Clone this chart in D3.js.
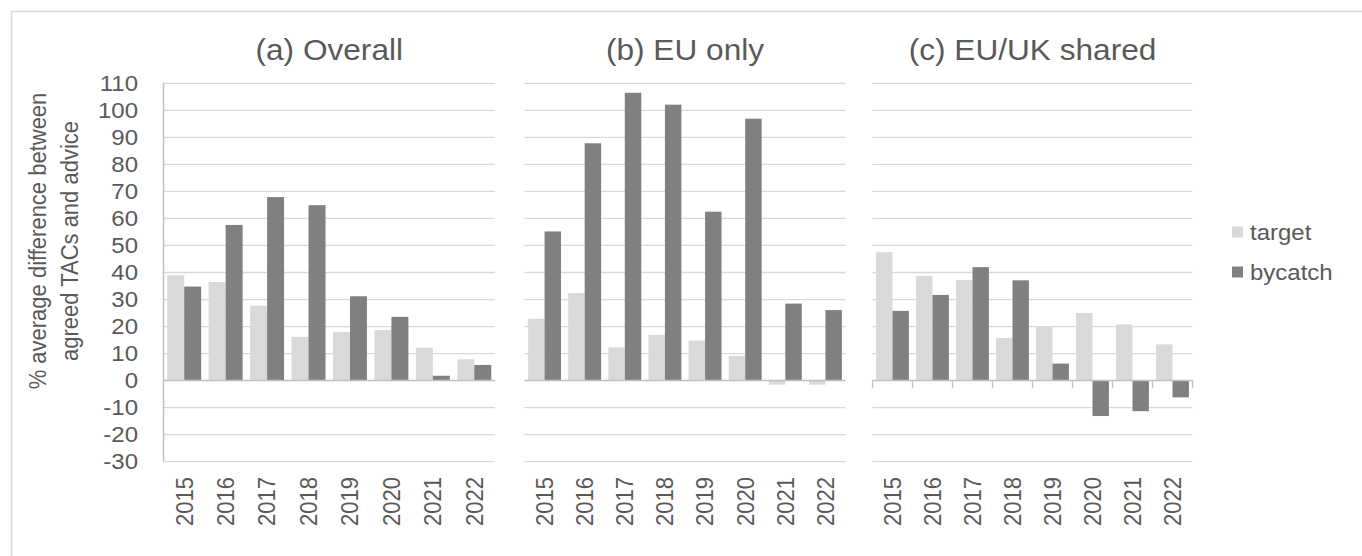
<!DOCTYPE html>
<html>
<head>
<meta charset="utf-8">
<script src="https://cdn.jsdelivr.net/npm/d3@7"></script>
<style>
  html, body { margin: 0; padding: 0; background: #fff; }
  svg { display: block; }
  text { font-family: "Liberation Sans", Arial, sans-serif; fill: #595959; }
</style>
</head>
<body>
<svg id="chart" width="1362" height="556"></svg>
<script>
// Categories and series values (% difference between agreed TACs and advice)
const years = ["2015", "2016", "2017", "2018", "2019", "2020", "2021", "2022"];
const seriesNames = ["target", "bycatch"];
const panelTitles = ["(a) Overall", "(b) EU only", "(c) EU/UK shared"];

const overallTarget  = [39.0, 36.5, 27.7, 16.2, 18.0, 18.7, 12.2, 7.9];
const overallBycatch = [34.8, 57.6, 67.9, 64.9, 31.2, 23.6, 1.8, 5.8];
const euTarget       = [22.9, 32.4, 12.3, 16.9, 14.8, 9.1, -1.5, -1.5];
const euBycatch      = [55.2, 87.8, 106.5, 102.1, 62.5, 96.9, 28.5, 26.1];
const sharedTarget   = [47.5, 38.7, 37.2, 15.8, 20.2, 25.0, 20.8, 13.4];
const sharedBycatch  = [25.8, 31.7, 42.0, 37.1, 6.3, -13.1, -11.3, -6.2];

const yTicks = d3.range(-30, 111, 10);

const panels = [
  { title: panelTitles[0], target: overallTarget, bycatch: overallBycatch, x0: 163.5, x1: 495,    leftAxis: true,  catTicks: false },
  { title: panelTitles[1], target: euTarget,      bycatch: euBycatch,      x0: 524.5, x1: 845.5,  leftAxis: false, catTicks: false },
  { title: panelTitles[2], target: sharedTarget,  bycatch: sharedBycatch,  x0: 872.5, x1: 1192.5, leftAxis: false, catTicks: true }
];

const colors = { target: "#d9d9d9", bycatch: "#808080" };
const gridColor = "#d9d9d9";
const axisColor = "#bfbfbf";
const sx = 1.09; // horizontal glyph stretch

const svg = d3.select("#chart");

// outer frame
svg.append("rect")
  .attr("x", 11.5).attr("y", 11.5)
  .attr("width", 1400).attr("height", 600)
  .attr("fill", "none").attr("stroke", "#d9d9d9").attr("stroke-width", 1.5);

const y = d3.scaleLinear().domain([-30, 110]).range([461.7, 83.3]);

function stretchedText(sel, x, yy, rot) {
  return sel.attr("transform", `translate(${x},${yy}) scale(${sx},1)` + (rot ? ` rotate(${rot})` : ""));
}

panels.forEach(p => {
  const g = svg.append("g");
  const x = d3.scaleBand().domain(years).range([p.x0, p.x1]).paddingInner(0.18).paddingOuter(0.09);
  const xs = d3.scaleBand().domain(seriesNames).range([0, x.bandwidth()]).padding(0);

  // gridlines
  g.append("g").selectAll("line")
    .data(yTicks.filter(t => t !== 0))
    .join("line")
    .attr("x1", p.x0).attr("x2", p.x1)
    .attr("y1", d => y(d)).attr("y2", d => y(d))
    .attr("stroke", gridColor).attr("stroke-width", 1.3);

  // bars
  const rows = years.map((yr, i) => ({ year: yr, target: p.target[i], bycatch: p.bycatch[i] }));
  const grp = g.append("g").selectAll("g")
    .data(rows).join("g")
    .attr("transform", d => `translate(${x(d.year)},0)`);
  grp.selectAll("rect")
    .data(d => seriesNames.map(s => ({ key: s, value: d[s] })))
    .join("rect")
    .attr("x", d => xs(d.key))
    .attr("width", xs.bandwidth())
    .attr("y", d => y(Math.max(0, d.value)))
    .attr("height", d => Math.abs(y(d.value) - y(0)))
    .attr("fill", d => colors[d.key]);

  // zero line (category axis)
  g.append("line")
    .attr("x1", p.x0).attr("x2", p.x1)
    .attr("y1", y(0)).attr("y2", y(0))
    .attr("stroke", axisColor).attr("stroke-width", 1.5);

  if (p.catTicks) {
    const bounds = d3.range(years.length + 1).map(i => p.x0 + i * x.step());
    g.append("g").selectAll("line")
      .data(bounds).join("line")
      .attr("x1", d => d).attr("x2", d => d)
      .attr("y1", y(0)).attr("y2", y(0) + 7)
      .attr("stroke", axisColor).attr("stroke-width", 1.3);
  }

  if (p.leftAxis) {
    g.append("line")
      .attr("x1", p.x0).attr("x2", p.x0)
      .attr("y1", y(110)).attr("y2", y(-30))
      .attr("stroke", axisColor).attr("stroke-width", 1.5);
    g.append("g").selectAll("text")
      .data(yTicks).join("text")
      .each(function(d) { stretchedText(d3.select(this), 138, y(d), 0); })
      .attr("text-anchor", "end")
      .attr("dy", "0.35em")
      .attr("font-size", 22)
      .text(d => d);
  }

  // category labels
  g.append("g").selectAll("text")
    .data(years).join("text")
    .each(function(d) { stretchedText(d3.select(this), x(d) + x.bandwidth() / 2, 477, -90); })
    .attr("text-anchor", "end")
    .attr("dy", "0.35em")
    .attr("font-size", 22)
    .text(d => d);

  // panel title
  stretchedText(g.append("text"), (p.x0 + p.x1) / 2, 60, 0)
    .attr("text-anchor", "middle")
    .attr("font-size", 29)
    .text(p.title);
});

// value axis title
const yTitle = ["% average difference between", "agreed TACs and advice"];
yTitle.forEach((t, i) => {
  stretchedText(svg.append("text"), 46 + i * 32, 241, -90)
    .attr("text-anchor", "middle")
    .attr("font-size", 22)
    .text(t);
});

// legend
const legend = svg.append("g");
seriesNames.forEach((s, i) => {
  const ly = 232 + i * 40;
  legend.append("rect")
    .attr("x", 1232).attr("y", ly - 5.5)
    .attr("width", 11).attr("height", 11)
    .attr("fill", colors[s]);
  stretchedText(legend.append("text"), 1250, ly, 0)
    .attr("dy", "0.35em")
    .attr("font-size", 22)
    .text(s);
});
</script>
</body>
</html>
